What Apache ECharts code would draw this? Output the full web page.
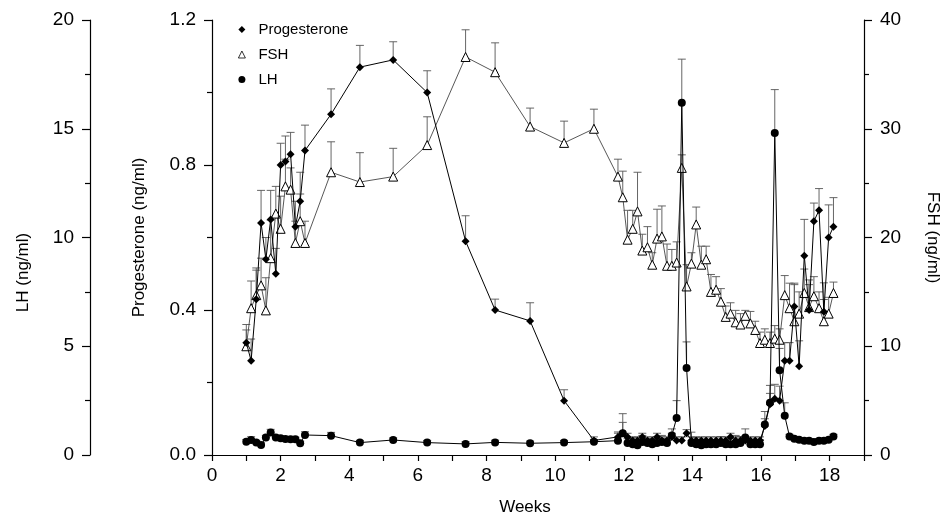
<!DOCTYPE html>
<html>
<head>
<meta charset="utf-8">
<title>Progesterone, FSH and LH</title>
<script src="https://cdn.jsdelivr.net/npm/echarts/dist/echarts.min.js"></script>
<style>
html, body { margin:0; padding:0; background:#fff; }
#chart { width:949px; height:527px; }
</style>
</head>
<body>
<div id="chart"></div>
<script>
// sampling times, weeks
var weeks = [
    1.00, 1.14, 1.29, 1.43, 1.57, 1.71, 1.86, 2.00, 2.14, 2.29, 2.43, 2.57, 2.71,
    3.47, 4.31, 5.28, 6.27, 7.39, 8.25, 9.27, 10.26, 11.13,
    11.83, 11.97, 12.11, 12.26, 12.40, 12.54, 12.69, 12.83, 12.97, 13.11,
    13.26, 13.40, 13.54, 13.69, 13.83, 13.97, 14.11, 14.26, 14.40, 14.54,
    14.69, 14.83, 14.97, 15.11, 15.26, 15.40, 15.54, 15.69, 15.83, 15.97,
    16.11, 16.26, 16.40, 16.54, 16.69, 16.83, 16.97, 17.11, 17.26, 17.40,
    17.54, 17.69, 17.83, 17.97, 18.11
];

var progesterone = [
    0.31, 0.26, 0.43, 0.64, 0.54, 0.65, 0.50, 0.80, 0.81, 0.83, 0.63, 0.70, 0.84,
    0.94, 1.07, 1.09, 1.00, 0.59, 0.40, 0.37, 0.15, 0.04,
    0.05, 0.06, 0.05, 0.04, 0.04, 0.05, 0.04, 0.04, 0.05, 0.04,
    0.04, 0.05, 0.04, 0.04, 0.06, 0.04, 0.04, 0.04, 0.04, 0.04,
    0.04, 0.04, 0.04, 0.05, 0.04, 0.04, 0.04, 0.04, 0.04, 0.04,
    0.08, 0.14, 0.155, 0.15, 0.26, 0.26, 0.41, 0.245, 0.55, 0.40,
    0.645, 0.675, 0.395, 0.60, 0.63
];
var progesteroneSd = [
    0.05, 0.06, 0.08, 0.09, 0.06, 0.08, 0.07, 0.06, 0.07, 0.06, 0.07, 0.08, 0.07,
    0.07, 0.06, 0.05, 0.06, 0.07, 0.03, 0.05, 0.03, 0.01,
    0.01, 0.03, 0.01, 0.01, 0.01, 0.01, 0.01, 0.01, 0.01, 0.01,
    0.01, 0.01, 0.01, 0.01, 0.01, 0.01, 0.01, 0.01, 0.01, 0.01,
    0.01, 0.01, 0.01, 0.01, 0.01, 0.01, 0.01, 0.01, 0.01, 0.01,
    0.02, 0.03, 0.04, 0.04, 0.05, 0.05, 0.06, 0.07, 0.10, 0.07,
    0.05, 0.06, 0.08, 0.09, 0.08
];

var fsh = [
    10.0, 13.5, 14.7, 15.6, 13.3, 18.1, 22.2, 20.8, 24.7, 24.4, 19.5, 21.5, 19.5,
    26.0, 25.1, 25.6, 28.5, 36.6, 35.2, 30.2, 28.7, 30.0,
    25.6, 23.7, 19.8, 20.8, 22.4, 18.8, 19.1, 17.5, 19.9, 20.1,
    17.4, 17.4, 17.7, 26.4, 15.5, 17.6, 21.2, 17.5, 18.0, 15.0,
    15.2, 14.1, 12.7, 13.0, 12.2, 12.0, 12.8, 12.1, 11.5, 10.3,
    10.6, 10.3, 10.7, 10.6, 14.7, 13.5, 12.3, 13.0, 14.9, 13.6,
    14.6, 13.5, 12.3, 13.0, 14.9
];
var fshSd = [
    1.5, 2.5, 2.5, 2.5, 3.0, 3.5, 2.5, 3.0, 2.5, 2.0, 2.0, 2.5, 2.0,
    2.8, 2.7, 2.6, 2.6, 2.5, 2.7, 1.7, 2.0, 1.8,
    1.6, 2.4, 2.7, 1.7, 3.6, 1.5, 1.9, 1.1, 2.7, 2.8,
    2.0, 1.5, 1.9, 1.2, 2.0, 1.0, 1.6, 1.7, 1.2, 1.6,
    1.2, 1.2, 1.0, 1.0, 1.1, 1.0, 0.5, 1.1, 0.8, 1.0,
    1.0, 1.0, 1.2, 1.0, 1.8, 2.3, 3.5, 2.0, 2.2, 2.5,
    1.8, 1.5, 2.0, 1.5, 1.0
];

var lh = [
    0.61, 0.69, 0.57, 0.46, 0.80, 1.03, 0.80, 0.77, 0.74, 0.72, 0.72, 0.54, 0.92,
    0.89, 0.57, 0.69, 0.57, 0.51, 0.58, 0.54, 0.57, 0.61,
    0.66, 1.00, 0.55, 0.50, 0.45, 0.60, 0.55, 0.50, 0.55, 0.60,
    0.55, 0.90, 1.70, 16.2, 4.00, 0.55, 0.50, 0.45, 0.50, 0.50,
    0.50, 0.55, 0.50, 0.50, 0.50, 0.55, 0.80, 0.50, 0.50, 0.50,
    1.40, 2.40, 14.8, 3.90, 1.80, 0.85, 0.75, 0.70, 0.65, 0.65,
    0.60, 0.65, 0.65, 0.70, 0.85
];
var lhSd = [
    0.1, 0.15, 0.1, 0.1, 0.1, 0.15, 0.1, 0.1, 0.1, 0.1, 0.1, 0.1, 0.15,
    0.15, 0.1, 0.1, 0.1, 0.1, 0.1, 0.1, 0.1, 0.1,
    0.4, 0.9, 0.2, 0.3, 0.2, 0.3, 0.2, 0.2, 0.3, 0.3,
    0.2, 0.3, 0.8, 2.0, 1.2, 0.5, 0.3, 0.2, 0.2, 0.2,
    0.2, 0.3, 0.2, 0.3, 0.4, 0.3, 0.4, 0.2, 0.2, 0.2,
    0.6, 0.8, 2.0, 1.0, 0.6, 0.1, 0.1, 0.1, 0.1, 0.1,
    0.1, 0.1, 0.1, 0.1, 0.1
];

// tick labels
var weekLabels = [0, 2, 4, 6, 8, 10, 12, 14, 16, 18];
var progesteroneLabels = ['0.0', '0.4', '0.8', '1.2'];
var lhLabels = [0, 5, 10, 15, 20];
var fshLabels = [0, 10, 20, 30, 40];

var font = 'Liberation Sans, Arial, Helvetica, sans-serif';

function pairs(xs, ys) {
    var out = [];
    for (var i = 0; i < xs.length; i++) {
        out.push([xs[i], ys[i]]);
    }
    return out;
}

function errorRows(xs, ys, sd) {
    var out = [];
    for (var i = 0; i < xs.length; i++) {
        out.push([xs[i], ys[i], sd[i]]);
    }
    return out;
}

// upward error bar with a small cap
function renderErrorBar(params, api) {
    var x = api.value(0), y = api.value(1), sd = api.value(2);
    var p0 = api.coord([x, y]);
    var p1 = api.coord([x, y + sd]);
    var st = { stroke: '#555', lineWidth: 0.9 };
    return {
        type: 'group',
        children: [
            { type: 'line', shape: { x1: p0[0], y1: p0[1], x2: p1[0], y2: p1[1] }, style: st },
            { type: 'line', shape: { x1: p1[0] - 4, y1: p1[1], x2: p1[0] + 4, y2: p1[1] }, style: st }
        ]
    };
}

function yAxisBase(pos, max, interval, labels, fmt) {
    return {
        type: 'value',
        position: pos,
        min: 0,
        max: max,
        interval: interval,
        splitLine: { show: false },
        axisLine: { show: true, lineStyle: { color: '#000', width: 1.2 } },
        axisTick: { show: true, length: 8, lineStyle: { color: '#000', width: 1.2 } },
        minorTick: { show: true, splitNumber: 2, length: 5, lineStyle: { color: '#000', width: 1.2 } },
        axisLabel: {
            margin: 16,
            color: '#000',
            fontSize: 19,
            fontFamily: font,
            formatter: function (v) {
                var s = fmt(v);
                return labels.indexOf(s) >= 0 || labels.indexOf(v) >= 0 ? s : '';
            }
        },
        nameLocation: 'middle',
        nameTextStyle: { color: '#000', fontSize: 17, fontFamily: font }
    };
}

function buildOption() {
    var progAxis = yAxisBase('left', 1.2, 0.4, progesteroneLabels, function (v) { return v.toFixed(1); });
    progAxis.name = 'Progesterone (ng/ml)';
    progAxis.nameGap = 64;

    var lhAxis = yAxisBase('left', 20, 5, lhLabels, function (v) { return v; });
    lhAxis.offset = 122;
    lhAxis.name = 'LH (ng/ml)';
    lhAxis.nameGap = 58;
    lhAxis.nameTextStyle.padding = [0, 70, 0, 0];

    var fshAxis = yAxisBase('right', 40, 10, fshLabels, function (v) { return v; });
    fshAxis.name = 'FSH (ng/ml)';
    fshAxis.nameGap = 60;
    fshAxis.nameRotate = -90;

    return {
        animation: false,
        backgroundColor: '#fff',
        grid: { left: 212, right: 83, top: 20, bottom: 72 },
        legend: {
            orient: 'vertical',
            left: 233,
            top: 17,
            itemWidth: 7,
            itemHeight: 7,
            itemGap: 10,
            textStyle: { color: '#000', fontSize: 15, fontFamily: font, padding: [0, 0, 0, 8] },
            data: [
                { name: 'Progesterone', icon: 'diamond' },
                { name: 'FSH', icon: 'triangle', itemStyle: { borderWidth: 0.8 } },
                { name: 'LH', icon: 'circle' }
            ]
        },
        xAxis: {
            type: 'value',
            min: 0,
            max: 19,
            interval: 1,
            splitLine: { show: false },
            axisLine: { onZero: false, lineStyle: { color: '#000', width: 1.2 } },
            axisTick: { length: 6, lineStyle: { color: '#000', width: 1.2 } },
            axisLabel: {
                margin: 11,
                color: '#000',
                fontSize: 19,
                fontFamily: font,
                formatter: function (v) { return weekLabels.indexOf(v) >= 0 ? String(v) : ''; }
            },
            name: 'Weeks',
            nameLocation: 'middle',
            nameGap: 44,
            nameTextStyle: { color: '#000', fontSize: 17, fontFamily: font, padding: [0, 26, 0, 0] }
        },
        yAxis: [progAxis, lhAxis, fshAxis],
        series: [
            {
                name: 'FSH-sd', type: 'custom', yAxisIndex: 2, z: 1,
                renderItem: renderErrorBar, data: errorRows(weeks, fsh, fshSd), clip: true
            },
            {
                name: 'Progesterone-sd', type: 'custom', yAxisIndex: 0, z: 1,
                renderItem: renderErrorBar, data: errorRows(weeks, progesterone, progesteroneSd), clip: true
            },
            {
                name: 'LH-sd', type: 'custom', yAxisIndex: 1, z: 1,
                renderItem: renderErrorBar, data: errorRows(weeks, lh, lhSd), clip: true
            },
            {
                name: 'FSH', type: 'line', yAxisIndex: 2, z: 3,
                data: pairs(weeks, fsh),
                symbol: 'triangle', symbolSize: 9, showAllSymbol: true,
                lineStyle: { color: '#444', width: 0.9 },
                itemStyle: { color: '#fff', borderColor: '#000', borderWidth: 1 }
            },
            {
                name: 'Progesterone', type: 'line', yAxisIndex: 0, z: 4,
                data: pairs(weeks, progesterone),
                symbol: 'diamond', symbolSize: 8, showAllSymbol: true,
                lineStyle: { color: '#000', width: 1 },
                itemStyle: { color: '#000' }
            },
            {
                name: 'LH', type: 'line', yAxisIndex: 1, z: 4,
                data: pairs(weeks, lh),
                symbol: 'circle', symbolSize: 8, showAllSymbol: true,
                lineStyle: { color: '#000', width: 1 },
                itemStyle: { color: '#000' }
            }
        ]
    };
}

function init() {
    var chart = echarts.init(document.getElementById('chart'), null, { renderer: 'canvas' });
    chart.setOption(buildOption());
}

init();
</script>
</body>
</html>
